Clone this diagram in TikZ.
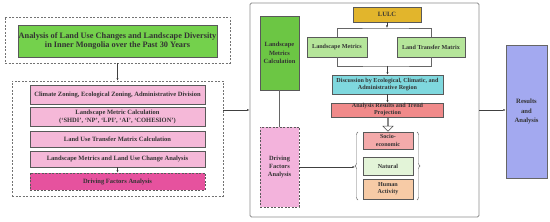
\documentclass[tikz,border=0pt]{standalone}
\usepackage{fontspec}
\setmainfont{Liberation Serif}
\usetikzlibrary{positioning,arrows.meta,calc,shapes.arrows,decorations.pathreplacing}

\definecolor{titleG}{HTML}{74D14C}
\definecolor{pinkL}{HTML}{F5B8D8}
\definecolor{pinkD}{HTML}{E6529E}
\definecolor{calcG}{HTML}{6CC644}
\definecolor{dfaP}{HTML}{F3B3DC}
\definecolor{lulcY}{HTML}{E2B52C}
\definecolor{lmG}{HTML}{B5E59A}
\definecolor{discC}{HTML}{7FD8DE}
\definecolor{anaR}{HTML}{F08A8A}
\definecolor{socR}{HTML}{F4AAAA}
\definecolor{natG}{HTML}{E3F4D8}
\definecolor{humO}{HTML}{F7CBA6}
\definecolor{resB}{HTML}{A3A9F0}

\begin{document}
\begin{tikzpicture}[x=1pt, y=-1pt,
  box/.style={draw=black!65, line width=0.5pt, align=center, inner sep=0.5pt,
    text=black!80, font=\bfseries\fontsize{6.1}{7.2}\selectfont},
  grp/.style={draw=black!55, dash pattern=on 2pt off 1.5pt, line width=0.6pt},
  stepbox/.style={box, fill=pinkL, minimum width=175pt, font=\bfseries\fontsize{6.5}{8}\selectfont},
  arr/.style={-{Latex[length=2.5pt,width=2pt]}, line width=0.45pt, draw=black!75},
  ln/.style={line width=0.45pt, draw=black!60},
]
\useasboundingbox (0,0) rectangle (550,222);

% left column
\node[grp, minimum width=225pt, minimum height=46pt] (top) at (117.5,40) {};
\node[box, fill=titleG, minimum width=189pt, minimum height=32pt,
  font=\bfseries\fontsize{8.3}{9.6}\selectfont] (title) at (117.5,41)
  {Analysis of Land Use Changes and Landscape Diversity\\in Inner Mongolia over the Past 30 Years};
\node[grp, minimum width=211pt, minimum height=115pt] (steps) at (117.5,138.5) {};
\node[stepbox, minimum height=19pt] (s1) at (117.5,94.5) {Climate Zoning, Ecological Zoning, Administrative Division};
\node[stepbox, minimum height=19pt] (s2) at (117.5,116.5) {Landscape Metric Calculation\\(`SHDI', `NP', `LPI', `AI', `COHESION')};
\node[stepbox, minimum height=16pt] (s3) at (117.5,139) {Land Use Transfer Matrix Calculation};
\node[stepbox, minimum height=16pt] (s4) at (117.5,159) {Landscape Metrics and Land Use Change Analysis};
\node[stepbox, fill=pinkD, dash pattern=on 2pt off 1.5pt, minimum height=17pt] (s5) at (117.5,181.5) {Driving Factors Analysis};
\draw[arr] (top.south) -- (steps.north);
\draw[arr] (s4.south) -- (s5.north);

% main frame
\node[draw=black!45, line width=0.8pt, rounded corners=1.5pt, minimum width=229pt, minimum height=214pt] (main) at (364.5,110) {};
\draw[arr] (steps.east |- main.west) -- (main.west);
\node[box, fill=calcG, minimum width=39pt, minimum height=74pt, font=\bfseries\fontsize{6.4}{8.6}\selectfont] (calc) at (279.5,53) {Landscape\\Metrics\\Calculation};
\node[box, fill=dfaP, dash pattern=on 2pt off 1.5pt, minimum width=39pt, minimum height=80pt, font=\bfseries\fontsize{6.4}{8.2}\selectfont] (dfa) at (279.5,167) {Driving\\Factors\\Analysis};
\draw[ln] (calc.south) -- (dfa.north);

% LULC branch
\node[box, fill=lulcY, minimum width=68pt, minimum height=15pt, font=\bfseries\fontsize{6.5}{7}\selectfont] (lulc) at (387,14.5) {LULC};
\node[box, fill=lmG, minimum width=60pt, minimum height=20pt] (lm) at (337,47) {Landscape Metrics};
\node[box, fill=lmG, minimum width=68pt, minimum height=20pt] (ltm) at (431,47) {Land Transfer Matrix};
\coordinate (split) at (387,28);
\coordinate (merge) at (387.5,66);
\draw[arr] (lulc.south) -- (split);
\draw[ln] (lm.north) |- (split) -| (ltm.north);
\draw[ln] (lm.south) |- (merge) -| (ltm.south);
\node[box, fill=discC, minimum width=111pt, minimum height=19pt] (disc) at (387.5,84.5) {Discussion by Ecological, Climatic, and\\Administrative Region};
\draw[arr] (merge) -- (disc.north);
\node[box, fill=anaR, minimum width=112pt, minimum height=14pt, inner sep=0pt, font=\bfseries\fontsize{6.1}{7}\selectfont] (ana) at (387.5,110) {Analysis Results and Trend\\Projection};
\draw[arr] (disc.south) -- (ana.north);
\node[single arrow, draw=black!70, fill=white, line width=0.5pt, inner sep=0pt, minimum width=10pt,
  minimum height=13pt, single arrow head extend=2.5pt, shape border rotate=270] (harr) at (388,124.5) {};

% driving factors
\node[box, fill=socR, minimum width=50pt, minimum height=17pt] (soc) at (388,140.5) {Socio-\\economic};
\node[box, fill=natG, minimum width=50pt, minimum height=18pt] (nat) at (388,166) {Natural};
\node[box, fill=humO, minimum width=50pt, minimum height=20pt] (hum) at (388,189) {Human\\Activity};
\draw[ln, decorate, decoration={brace, amplitude=3pt}] (358,200) -- (358,132);
\draw[ln, decorate, decoration={brace, amplitude=3pt}] (417,132) -- (417,200);
\coordinate (btip) at (355,166);
\draw[arr] (dfa.east) -- (dfa.east -| btip);

% results
\node[box, fill=resB, draw=black!60, minimum width=41pt, minimum height=133pt, font=\bfseries\fontsize{6.6}{9.5}\selectfont] (res) at (526.5,111.5) {Results\\and\\Analysis};
\draw[arr] (main.east) -- (main.east -| res.west);
\end{tikzpicture}
\end{document}
